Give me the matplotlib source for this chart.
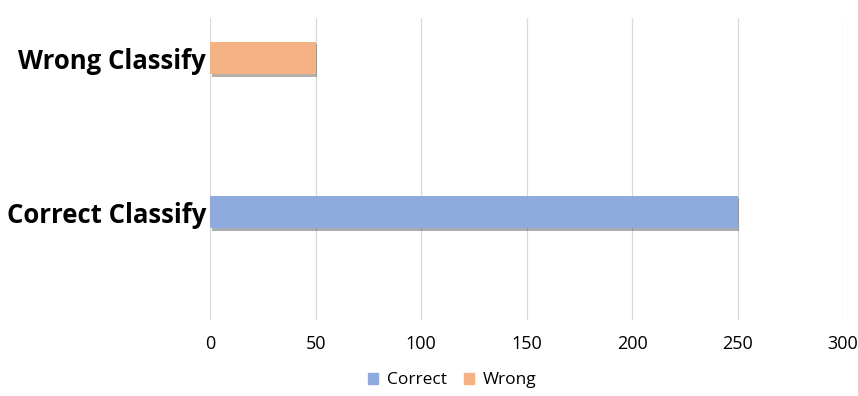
import matplotlib
matplotlib.use("Agg")
import matplotlib.pyplot as plt
import matplotlib.patheffects as pe
from matplotlib.patches import Patch

plt.rcParams["font.family"] = ["Open Sans", "DejaVu Sans"]

categories = ["Correct Classify", "Wrong Classify"]
correct_vals = [250, 0]
wrong_vals = [0, 50]
xticks = [0, 50, 100, 150, 200, 250, 300]

C_COR = "#8FAADC"
C_WRG = "#F4B183"

fig = plt.figure(figsize=(8.58, 3.96), dpi=100)
ax = fig.add_axes([0.245, 0.192, 0.7375, 0.7625])

shadow = [pe.SimplePatchShadow(offset=(1.2, -1.8), alpha=0.4), pe.Normal()]
pos = list(range(len(categories)))
h = 0.21
b1 = ax.barh(pos, correct_vals, height=h, color=C_COR, zorder=3)
b2 = ax.barh(pos, wrong_vals, height=h, color=C_WRG, zorder=3)
for b in list(b1) + list(b2):
    b.set_path_effects(shadow)

ax.set_xlim(0, 300)
ax.set_ylim(-0.70, 1.26)
ax.set_xticks(xticks)
ax.set_yticks(pos)
ax.set_yticklabels(categories, fontsize=18.5, fontweight="bold")
ax.tick_params(axis="x", labelsize=13, length=0, pad=11)
ax.tick_params(axis="y", length=0, pad=3)
ax.grid(axis="x", color="#D9D9D9", lw=0.9, zorder=0)
for s in ax.spines.values():
    s.set_visible(False)

handles = [Patch(color=C_COR), Patch(color=C_WRG)]
fig.legend(handles=handles, labels=["Correct", "Wrong"], loc="center",
           bbox_to_anchor=(0.527, 0.04), ncol=2, frameon=False, fontsize=12.5,
           handlelength=0.6, handleheight=0.6, handletextpad=0.5, columnspacing=1.0)

fig.savefig("out.png", dpi=100)
